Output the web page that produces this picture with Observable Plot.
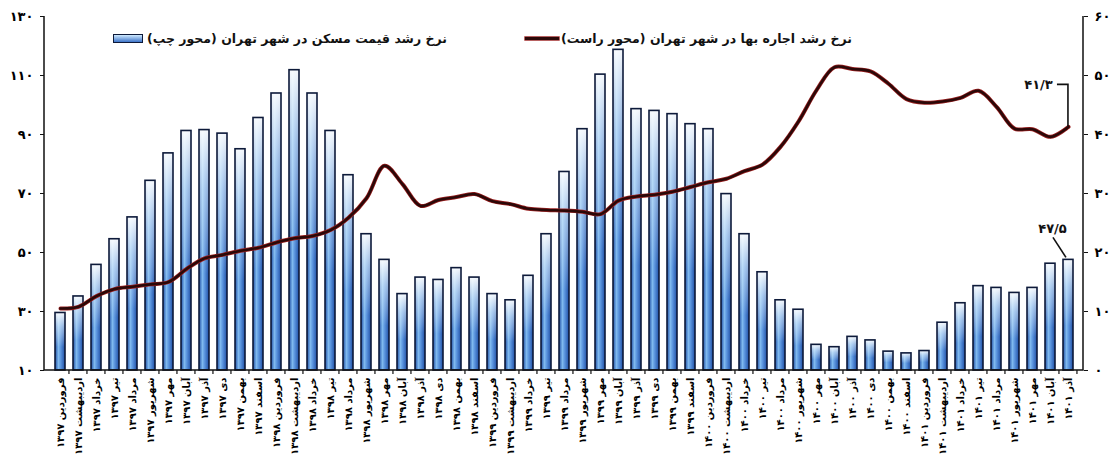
<!DOCTYPE html>
<html>
<head>
<meta charset="utf-8">
<script src="https://cdn.jsdelivr.net/npm/d3@7"></script>
<script src="https://cdn.jsdelivr.net/npm/@observablehq/plot@0.6"></script>
<style>
  body { margin: 0; background: #fff; }
  #wrap { position: relative; width: 1112px; height: 460px; font-family: "DejaVu Sans", sans-serif; }
  .leg { position: absolute; top: 31px; display: flex; align-items: center; font-weight: bold; font-size: 12.5px; color: #111; white-space: nowrap; }
  .leg .txt { direction: rtl; }
  .sw-bar { width: 28px; height: 7px; border: 1.5px solid #0d1a3a; background: linear-gradient(to bottom, #cfeaff, #3d74c9); margin-right: 4px; }
  .sw-line { width: 34px; height: 3px; background: #2b0808; box-shadow: 0 0 0 0.7px #9b2020; margin-right: 2px; }
</style>
</head>
<body>
<div id="wrap"></div>
<script>
// ---- data ----
const months = ["فروردین","اردیبهشت","خرداد","تیر","مرداد","شهریور","مهر","آبان","آذر","دی","بهمن","اسفند"];
const years = [1397, 1398, 1399, 1400, 1401];
const lastMonthCount = 9; // 1401 ends at آذر

// house price growth, Tehran (left axis, %)
const housePrice = [
  29.5, 35.1, 45.8, 54.5, 61.9, 74.3, 83.6, 91.2, 91.5, 90.3, 85.0, 95.6,
  103.9, 111.8, 103.9, 91.2, 76.2, 56.2, 47.5, 35.9, 41.5, 40.7, 44.7, 41.5,
  35.9, 33.8, 42.1, 56.2, 77.3, 91.8, 110.3, 118.7, 98.6, 98.0, 96.9, 93.5,
  91.8, 69.8, 56.2, 43.3, 33.8, 30.6, 18.7, 17.9, 21.4, 20.2, 16.4, 15.8,
  16.6, 26.2, 32.8, 38.6, 38.0, 36.3, 38.0, 46.2, 47.5
];
// rent growth, Tehran (right axis, %)
const rent = [
  10.5, 10.8, 12.6, 13.8, 14.2, 14.6, 15.0, 17.2, 19.0, 19.6, 20.3, 20.8,
  21.7, 22.4, 22.8, 23.8, 25.9, 29.2, 34.7, 31.6, 27.9, 28.9, 29.4, 29.9,
  28.7, 28.2, 27.4, 27.2, 27.1, 26.9, 26.5, 28.8, 29.5, 29.8, 30.3, 31.1,
  31.9, 32.5, 33.8, 34.9, 37.9, 42.2, 47.5, 51.4, 51.1, 50.7, 48.6, 46.0,
  45.4, 45.6, 46.2, 47.4, 44.7, 41.0, 40.9, 39.6, 41.3
];
const leftTicks = [10, 30, 50, 70, 90, 110, 130];
const rightTicks = [0, 10, 20, 30, 40, 50, 60];
const legendBars = "نرخ رشد قیمت مسکن در شهر تهران (محور چپ)";
const legendLine = "نرخ رشد اجاره بها در شهر تهران (محور راست)";
const annotRent = "41.3";
const annotPrice = "47.5";

// ---- helpers ----
const fa = v => String(v).replace(/\d/g, d => "۰۱۲۳۴۵۶۷۸۹"[d]).replace(".", "/");
const labels = [];
years.forEach((yr, yi) => {
  const n = yi === years.length - 1 ? lastMonthCount : 12;
  for (let m = 0; m < n; m++) labels.push(months[m] + " " + fa(yr));
});
// right axis (0..60) mapped onto left axis (10..130)
const r0 = rightTicks[0], r1 = rightTicks[rightTicks.length - 1];
const l0 = leftTicks[0], l1 = leftTicks[leftTicks.length - 1];
const toLeft = r => l0 + (r - r0) * (l1 - l0) / (r1 - r0);
const toRight = l => r0 + (l - l0) * (r1 - r0) / (l1 - l0);

const data = labels.map((label, i) => ({label, price: housePrice[i], rent: rent[i], rentL: toLeft(rent[i])}));
const last = data[data.length - 1];

const padInner = 0.45;
const font = "DejaVu Sans, sans-serif";

const defs = () => {
  const g = d3.create("svg:g");
  const d = g.append("defs");
  const h = d.append("linearGradient").attr("id", "barH").attr("x1", 0).attr("x2", 1).attr("y1", 0).attr("y2", 0);
  [["0%", "#1f4fa6"], ["35%", "#7fb9ee"], ["55%", "#5d97df"], ["100%", "#1f4fa6"]]
    .forEach(([o, c]) => h.append("stop").attr("offset", o).attr("stop-color", c));
  const v = d.append("linearGradient").attr("id", "barV").attr("x1", 0).attr("x2", 0).attr("y1", 0).attr("y2", 1);
  [["0%", "#ffffff", 0.95], ["25%", "#e6f5ff", 0.55], ["60%", "#ffffff", 0], ["100%", "#ffffff", 0]]
    .forEach(([o, c, a]) => v.append("stop").attr("offset", o).attr("stop-color", c).attr("stop-opacity", a));
  return g.node();
};

const frameLines = (index, scales, values, dim) => {
  const g = d3.create("svg:g").attr("fill", "none").attr("stroke", "#111");
  const l = dim.marginLeft, r = dim.width - dim.marginRight, t = dim.marginTop, b = dim.height - dim.marginBottom;
  g.append("path").attr("stroke-width", 1.5).attr("d", `M${l},${t}V${b}H${r}V${t}`);
  const x = scales.x;
  const step = x(labels[1]) - x(labels[0]);
  const gap = step * padInner;
  const xs = labels.map(lab => x(lab) - gap / 2).slice(1);
  xs.push(x(labels[labels.length - 1]) + step - gap / 2);
  g.append("path").attr("stroke-width", 1.2).attr("d", xs.map(px => `M${px},${b}v4`).join(""));
  return g.node();
};

const leaders = (index, scales, values, dim) => {
  const x = scales.x, y = scales.y;
  const step = x(labels[1]) - x(labels[0]);
  const bw = step * (1 - padInner);
  const px = x(last.label) + bw / 2;
  const pyR = y(last.rentL), pyP = y(last.price);
  const g = d3.create("svg:g").attr("fill", "none").attr("stroke", "#111").attr("stroke-width", 1.6);
  g.append("path").attr("d", `M${px - 11},${pyR - 42}H${px}V${pyR}`);
  g.append("path").attr("d", `M${px - 15},${pyP - 22}L${px - 2},${pyP - 2}`);
  return g.node();
};

const chart = Plot.plot({
  width: 1112,
  height: 460,
  marginLeft: 44,
  marginRight: 29,
  marginTop: 16,
  marginBottom: 90,
  style: {fontFamily: font, background: "#fff"},
  x: {type: "band", domain: labels, paddingInner: padInner, paddingOuter: 0.22, axis: null, label: null},
  y: {domain: [l0, l1], axis: null, label: null},
  marks: [
    defs,
    Plot.barY(data, {x: "label", y1: l0, y2: "price", fill: "url(#barH)"}),
    Plot.barY(data, {x: "label", y1: l0, y2: "price", fill: "url(#barV)", stroke: "#0d1a3a", strokeWidth: 1.6}),
    Plot.line(data, {x: "label", y: "rentL", curve: "catmull-rom", stroke: "#9b2020", strokeWidth: 4}),
    Plot.line(data, {x: "label", y: "rentL", curve: "catmull-rom", stroke: "#2b0808", strokeWidth: 2.6}),
    frameLines,
    Plot.axisY({anchor: "left", ticks: leftTicks, tickFormat: fa, tickSize: 4, tickPadding: 7,
      fontSize: 13, fontWeight: "bold", stroke: "#111", label: null}),
    Plot.axisY({anchor: "right", ticks: rightTicks.map(toLeft), tickFormat: d => fa(Math.round(toRight(d))),
      tickSize: 4, tickPadding: 7, fontSize: 13, fontWeight: "bold", stroke: "#111", label: null}),
    Plot.axisX({anchor: "bottom", tickRotate: -90, tickSize: 0, tickPadding: 7, fontSize: 10, fontWeight: "bold", label: null}),
    Plot.text([last], {x: "label", y: "rentL", text: () => fa(annotRent), dx: -30, dy: -42,
      fontSize: 13, fontWeight: "bold", fill: "#111"}),
    Plot.text([last], {x: "label", y: "price", text: () => fa(annotPrice), dx: -16, dy: -31,
      fontSize: 13, fontWeight: "bold", fill: "#111"}),
    leaders
  ]
});

const wrap = document.getElementById("wrap");
wrap.appendChild(chart);

const mk = (left, swClass, text) => {
  const d = document.createElement("div");
  d.className = "leg";
  d.style.left = left + "px";
  const sw = document.createElement("div");
  sw.className = swClass;
  const t = document.createElement("span");
  t.className = "txt";
  t.textContent = text;
  d.appendChild(sw);
  d.appendChild(t);
  wrap.appendChild(d);
};
mk(113, "sw-bar", legendBars);
mk(525, "sw-line", legendLine);
</script>
</body>
</html>
